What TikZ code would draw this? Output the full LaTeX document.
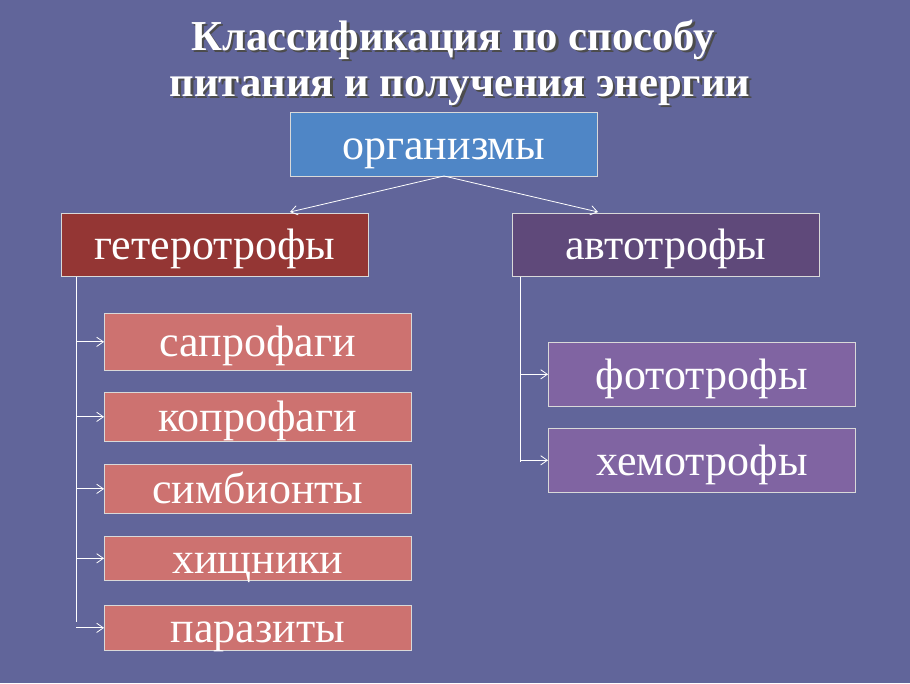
\documentclass[tikz,border=0pt]{standalone}
\usepackage{fontspec}
\setmainfont{Liberation Serif}
\usetikzlibrary{arrows.meta}
\definecolor{bg}{HTML}{61659A}
\definecolor{topc}{HTML}{4F86C6}
\definecolor{heter}{HTML}{943634}
\definecolor{auto}{HTML}{5F497A}
\definecolor{salm}{HTML}{CD7270}
\definecolor{purp}{HTML}{8064A2}
\begin{document}
\begin{tikzpicture}[x=0.75pt,y=-0.75pt,
  box/.style={draw=white!85!black,line width=0.5pt,inner sep=0pt,anchor=north west,minimum width=230.25pt},
  lbl/.style={text=white,font=\fontsize{33}{36}\selectfont,anchor=base,inner sep=0pt},
  conn/.style={draw=white,line width=0.6pt,-{Straight Barb[length=5pt,width=7pt]}},
  ttl/.style={font=\bfseries\fontsize{32}{36}\selectfont}]
\fill[bg] (0,0) rectangle (910,683);
\useasboundingbox (0,0) rectangle (910,683);
\foreach \x/\y/\t in {453/50/{Классификация по способу},460/96/{питания и получения энергии}}{
  \node[ttl,text=black!70,anchor=base] at (\x+2.5,\y+2.5) {\t};
  \node[ttl,text=white,anchor=base] at (\x,\y) {\t};}
\node[box,fill=topc,minimum height=48pt] (org) at (290,112) {};
\node[box,fill=heter,minimum height=47.25pt] (het) at (61,213) {};
\node[box,fill=auto,minimum height=47.25pt] (aut) at (512,213) {};
\node[lbl] (torg) at ([yshift=-11pt]org.center) {организмы};
\node[lbl] (thet) at ([yshift=-11pt]het.center) {гетеротрофы};
\node[lbl] (taut) at ([yshift=-11pt]aut.center) {автотрофы};
\foreach \n/\a/\b/\t in {s1/313/370/сапрофаги,s2/392/441/копрофаги,s3/464/513/симбионты,s4/536/580/хищники,s5/605/650/паразиты}{
  \node[box,fill=salm,minimum height={(\b-\a)*0.75pt}] (\n) at (104,\a) {};
  \node[lbl] (t\n) at ([yshift=-11pt]\n.center) {\t};}
\foreach \n/\a/\b/\t in {r1/342/406/фототрофы,r2/428/492/хемотрофы}{
  \node[box,fill=purp,minimum height={(\b-\a)*0.75pt}] (\n) at (548,\a) {};
  \node[lbl] (t\n) at ([yshift=-11pt]\n.center) {\t};}
\coordinate (oc) at (444,176);
\draw[conn] (oc) -- (290,212);
\draw[conn] (oc) -- (598,212);
\draw[white,line width=0.6pt] (het.south west) ++(15,0) coordinate (lv) -- (76,622);
\foreach \n in {s1,s2,s3,s4,s5} \draw[conn] (lv |- \n.west) -- (\n.west);
\draw[white,line width=0.6pt] (aut.south west) ++(8,0) coordinate (rv) -- (520,462);
\foreach \n in {r1,r2} \draw[conn] (rv |- \n.west) -- (\n.west);
\end{tikzpicture}
\end{document}
